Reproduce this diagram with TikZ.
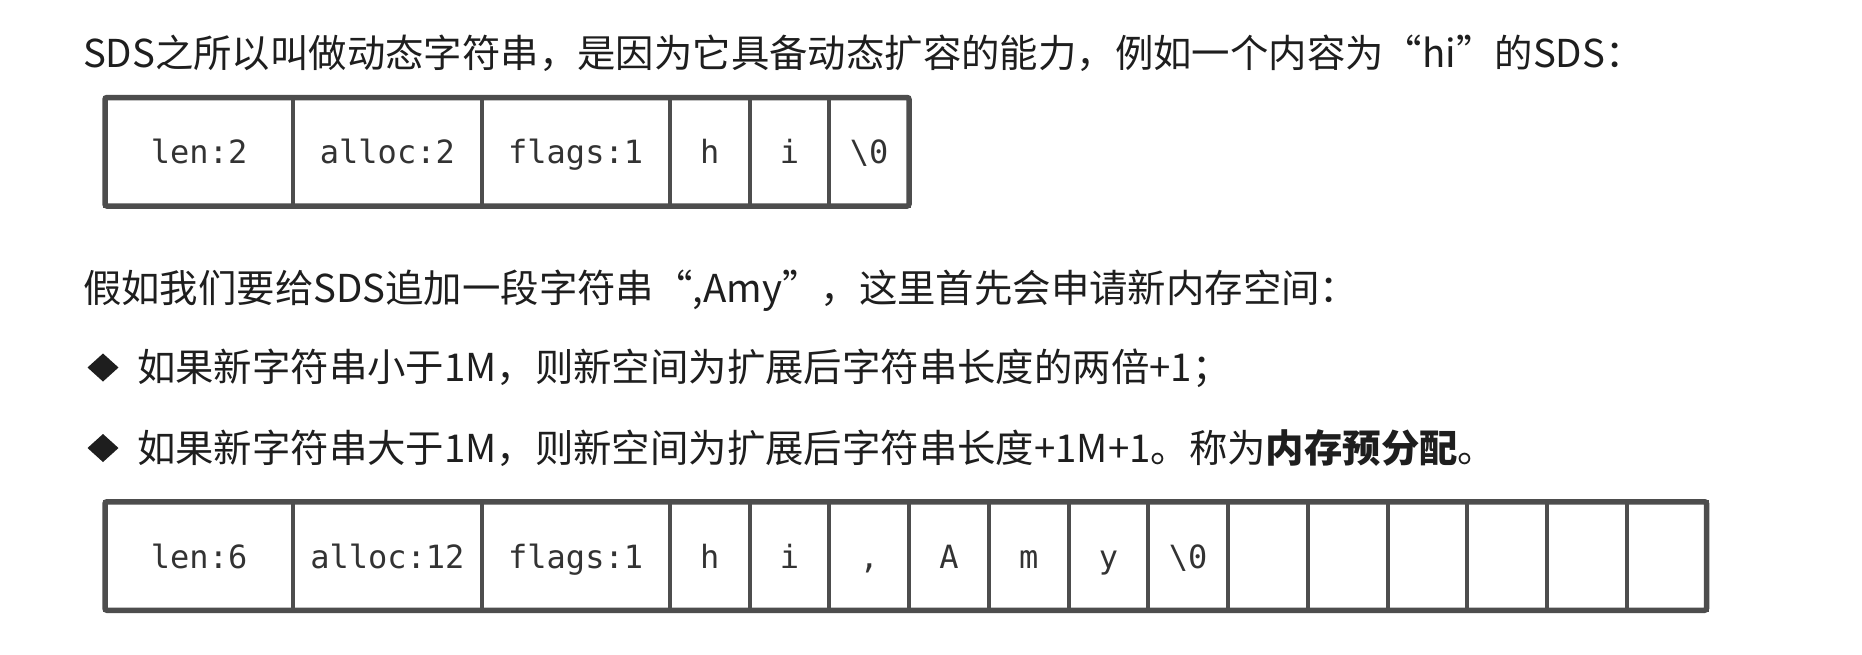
\documentclass[tikz,border=0pt]{standalone}
\usepackage{fontspec}
\setmainfont{Noto Sans CJK SC}
\newfontfamily\monof{DejaVu Sans Mono}
\usetikzlibrary{positioning}
\definecolor{bordercol}{HTML}{4D4D4D}
\definecolor{txtcol}{HTML}{1E1E1E}
\definecolor{celltxt}{HTML}{333333}
\begin{document}
\begin{tikzpicture}[x=0.5pt,y=-0.5pt,
  line/.style={anchor=base west, inner sep=0pt, outer sep=0pt, text=txtcol,
    font=\fontsize{19.2pt}{22pt}\selectfont},
  cell/.style={draw=bordercol, line width=2pt, inner sep=0pt, outer sep=0pt,
    minimum height=54.25pt, anchor=west, text=celltxt,
    text height=14pt, text depth=2pt, font=\monof\fontsize{16pt}{18pt}\selectfont},
  wide/.style={cell, minimum width=94.125pt},
  narrow/.style={cell, minimum width=39.875pt},
  outer/.style={draw=bordercol, line width=2.75pt, rounded corners=1pt},
  bullet/.style={fill=txtcol, draw=none}
]
\useasboundingbox[fill=white] (0,0) rectangle (1862,654);

% line 1
\node[line] (t1) at (83,67) {SDS之所以叫做动态字符串，是因为它具备动态扩容的能力，例如一个内容为“hi”的SDS：};

% table 1
\node[wide] (a1) at (105,151.75) {len:2};
\node[wide] (a2) at (a1.east) {alloc:2};
\node[wide] (a3) at (a2.east) {flags:1};
\node[narrow] (a4) at (a3.east) {h};
\node[narrow] (a5) at (a4.east) {i};
\node[narrow] (a6) at (a5.east) {\textbackslash 0};
\draw[outer] (a1.north west) rectangle (a6.south east);

% line 2
\node[line] (t2) at (83,302) {假如我们要给SDS追加一段字符串“,Amy”，这里首先会申请新内存空间：};

% bullets
\coordinate (b1) at (103,367.5);
\coordinate (b2) at (103,448);
\fill[bullet] ([xshift=-7.75pt]b1) -- ([yshift=7pt]b1) -- ([xshift=7.75pt]b1) -- ([yshift=-7pt]b1) -- cycle;
\fill[bullet] ([xshift=-7.75pt]b2) -- ([yshift=7pt]b2) -- ([xshift=7.75pt]b2) -- ([yshift=-7pt]b2) -- cycle;

\node[line] (t3) at (137,381.5) {如果新字符串小于1M，则新空间为扩展后字符串长度的两倍+1；};
\node[line] (t4) at (137,462) {如果新字符串大于1M，则新空间为扩展后字符串长度+1M+1。称为\textbf{内存预分配}。};

% table 2
\node[wide] (c1) at (105,556) {len:6};
\node[wide] (c2) at (c1.east) {alloc:12};
\node[wide] (c3) at (c2.east) {flags:1};
\node[narrow] (c4) at (c3.east) {h};
\node[narrow] (c5) at (c4.east) {i};
\node[narrow] (c6) at (c5.east) {,};
\node[narrow] (c7) at (c6.east) {A};
\node[narrow] (c8) at (c7.east) {m};
\node[narrow] (c9) at (c8.east) {y};
\node[narrow] (c10) at (c9.east) {\textbackslash 0};
\node[narrow] (c11) at (c10.east) {};
\node[narrow] (c12) at (c11.east) {};
\node[narrow] (c13) at (c12.east) {};
\node[narrow] (c14) at (c13.east) {};
\node[narrow] (c15) at (c14.east) {};
\node[narrow] (c16) at (c15.east) {};
\draw[outer] (c1.north west) rectangle (c16.south east);
\end{tikzpicture}
\end{document}
